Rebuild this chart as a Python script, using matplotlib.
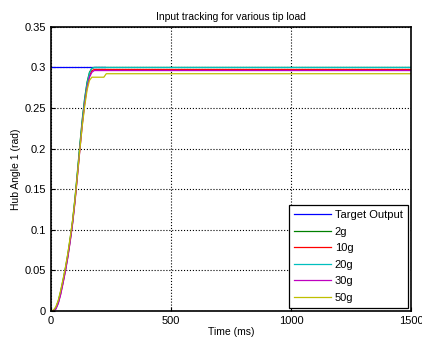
import matplotlib
matplotlib.use('Agg')
import matplotlib.pyplot as plt

plt.rcParams['font.family'] = ['Liberation Sans', 'DejaVu Sans']

# Target (step reference shown only for the first part)
t_target = [0, 225]
y_target = [0.3, 0.3]

# Responses for the different tip loads (time in ms, angle in rad)
t_resp = [0, 10, 20, 30, 40, 50, 60, 70, 80, 90, 100, 110, 120, 130, 140, 150, 160, 170, 180, 230, 1500]
y_2g = [0, 0.0, 0.004, 0.012, 0.024, 0.038, 0.053, 0.070, 0.090, 0.112, 0.140, 0.172, 0.205, 0.236, 0.262, 0.282, 0.294, 0.299, 0.300, 0.300, 0.300]
y_10g = [0, 0.0, 0.003, 0.010, 0.021, 0.035, 0.050, 0.067, 0.087, 0.109, 0.136, 0.168, 0.200, 0.231, 0.257, 0.277, 0.290, 0.296, 0.2975, 0.2975, 0.2975]
y_20g = [0, 0.0, 0.003, 0.010, 0.022, 0.036, 0.051, 0.068, 0.088, 0.110, 0.138, 0.170, 0.203, 0.234, 0.260, 0.280, 0.293, 0.299, 0.300, 0.300, 0.300]
y_30g = [0, 0.0, 0.002, 0.009, 0.020, 0.034, 0.049, 0.066, 0.086, 0.108, 0.135, 0.166, 0.198, 0.229, 0.255, 0.275, 0.288, 0.294, 0.2962, 0.2962, 0.2962]
t_50g = [0, 10, 20, 30, 40, 50, 60, 70, 80, 90, 100, 110, 120, 130, 140, 150, 160, 170, 220, 230, 1500]
y_50g = [0, 0.001, 0.005, 0.013, 0.025, 0.039, 0.054, 0.071, 0.091, 0.112, 0.138, 0.168, 0.199, 0.228, 0.252, 0.272, 0.284, 0.288, 0.288, 0.2923, 0.2923]

fig = plt.figure(figsize=(4.22, 3.45), dpi=100)
ax = fig.add_axes([0.121, 0.099, 0.853, 0.823])

ax.plot(t_target, y_target, color='#0000ff', linewidth=0.9, label='Target Output')
ax.plot(t_resp, y_2g, color='#008000', linewidth=0.9, label='2g')
ax.plot(t_resp, y_10g, color='#ff0000', linewidth=0.9, label='10g')
ax.plot(t_resp, y_20g, color='#00bfbf', linewidth=0.9, label='20g')
ax.plot(t_resp, y_30g, color='#bf00bf', linewidth=0.9, label='30g')
ax.plot(t_50g, y_50g, color='#bfbf00', linewidth=0.9, label='50g')

ax.set_xlim(0, 1500)
ax.set_ylim(0, 0.35)
ax.set_xticks([0, 500, 1000, 1500])
ax.set_yticks([0, 0.05, 0.1, 0.15, 0.2, 0.25, 0.3, 0.35])
ax.set_yticklabels(['0', '0.05', '0.1', '0.15', '0.2', '0.25', '0.3', '0.35'])
ax.grid(True, color='black', linestyle=':', linewidth=0.8)
ax.tick_params(labelsize=8, direction='in', length=3)
for s in ax.spines.values():
    s.set_linewidth(1.2)

ax.set_title('Input tracking for various tip load', fontsize=7.5, pad=5)
ax.set_xlabel('Time (ms)', fontsize=7.5, labelpad=1)
ax.set_ylabel('Hub Angle 1 (rad)', fontsize=7.5, labelpad=3)

leg = ax.legend(loc='lower right', fontsize=8, fancybox=False, framealpha=1,
                edgecolor='black', handlelength=3.4, borderaxespad=0.3,
                labelspacing=0.58, handletextpad=0.3, borderpad=0.45)
leg.get_frame().set_linewidth(0.9)

fig.savefig('out.png', dpi=100)
